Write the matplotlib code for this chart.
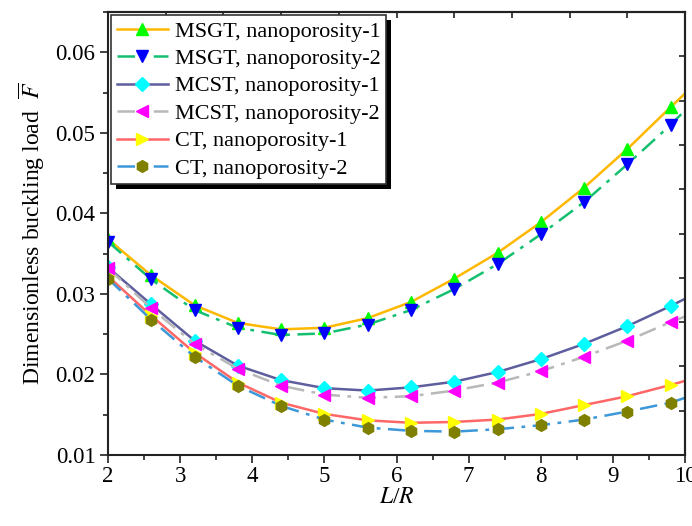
import matplotlib
matplotlib.use("Agg")
import matplotlib.pyplot as plt
import numpy as np
from matplotlib.ticker import MultipleLocator
from matplotlib.patches import Rectangle

plt.rcParams['font.family'] = ['Liberation Serif', 'DejaVu Serif']
plt.rcParams['mathtext.fontset'] = 'stix'

# x positions (markers) plus end point of the curves at L/R = 10
x = [2.0, 2.6, 3.2, 3.8, 4.4, 5.0, 5.6, 6.2, 6.8, 7.4, 8.0, 8.6, 9.2, 9.8, 10.0]

msgt_1 = [0.0368, 0.0323, 0.0286, 0.0264, 0.0256, 0.0258, 0.0270, 0.0290, 0.0319, 0.0351, 0.0389, 0.0432, 0.0480, 0.0532, 0.0549]
msgt_2 = [0.0365, 0.0318, 0.0280, 0.0258, 0.0249, 0.0251, 0.0262, 0.0280, 0.0306, 0.0337, 0.0374, 0.0414, 0.0461, 0.0510, 0.0528]
mcst_1 = [0.0333, 0.0287, 0.0242, 0.0211, 0.0193, 0.0183, 0.0180, 0.0184, 0.0191, 0.0203, 0.0219, 0.0238, 0.0260, 0.0285, 0.0294]
mcst_2 = [0.0332, 0.0282, 0.0238, 0.0207, 0.0186, 0.0175, 0.0171, 0.0173, 0.0180, 0.0190, 0.0204, 0.0222, 0.0242, 0.0265, 0.0272]
ct_1 = [0.0322, 0.0273, 0.0227, 0.0190, 0.0165, 0.0151, 0.0143, 0.0140, 0.0141, 0.0144, 0.0151, 0.0162, 0.0173, 0.0187, 0.0192]
ct_2 = [0.0319, 0.0268, 0.0222, 0.0186, 0.0161, 0.0144, 0.0134, 0.0130, 0.0129, 0.0132, 0.0137, 0.0144, 0.0154, 0.0165, 0.0171]

labels = ["MSGT, nanoporosity-1", "MSGT, nanoporosity-2",
          "MCST, nanoporosity-1", "MCST, nanoporosity-2",
          "CT, nanoporosity-1", "CT, nanoporosity-2"]

xticks = [2, 3, 4, 5, 6, 7, 8, 9, 10]
yticks = [0.01, 0.02, 0.03, 0.04, 0.05, 0.06]
ytick_labels = ['0.01', '0.02', '0.03', '0.04', '0.05', '0.06']

series = [msgt_1, msgt_2, mcst_1, mcst_2, ct_1, ct_2]
line_colors = ['#FFB800', '#14C070', '#5E5E9E', '#B8B8B8', '#FF6666', '#3C98D8']
line_styles = ['-', (0, (7, 3, 1.5, 3)), '-', (0, (7, 3, 1.5, 3)), '-', (0, (7, 3, 1.5, 3))]
markers = ['^', 'v', 'D', '<', '>', 'h']
marker_colors = ['#00FF00', '#0000FF', '#00FFFF', '#FF00FF', '#FFFF00', '#808000']
marker_sizes = [9, 9, 7.5, 9, 9, 8.5]

fig = plt.figure(figsize=(6.92, 5.26), dpi=100)
ax = fig.add_axes([0.156, 0.135, 0.834, 0.842])

for ys, lab, lc, ls, mk, mc, ms in zip(series, labels, line_colors, line_styles,
                                        markers, marker_colors, marker_sizes):
    ax.plot(x, ys, color=lc, linestyle=ls, linewidth=1.8, marker=mk,
            markerfacecolor=mc, markeredgecolor=mc, markersize=ms,
            markevery=list(range(14)), label=lab)

ax.set_xlim(2, 10)
ax.set_ylim(0.01, 0.065)
ax.set_xticks(xticks)
ax.xaxis.set_minor_locator(MultipleLocator(0.5))
ax.set_yticks(yticks)
ax.set_yticklabels(ytick_labels)
ax.yaxis.set_minor_locator(MultipleLocator(0.005))

tc = '#333333'
ax.tick_params(axis='both', which='both', labelsize=16.5, width=1.3, color=tc,
               direction='out', top=False, right=False)
ax.tick_params(axis='both', which='major', length=6)
ax.tick_params(axis='both', which='minor', length=3.5)
ax.tick_params(axis='x', which='major', pad=2)
ax.tick_params(axis='y', which='major', pad=3)

# top and right axes: ten equal divisions, inward ticks, no labels
ax2 = ax.secondary_xaxis('top')
ax2.set_xticks(np.linspace(2, 10, 11))
ax2.tick_params(direction='in', length=4.5, width=1.3, labeltop=False, color=tc)
ax3 = ax.secondary_yaxis('right')
ax3.set_yticks(np.linspace(0.01, 0.065, 11))
ax3.tick_params(direction='in', length=4.5, width=1.3, labelright=False, color=tc)
for a in (ax, ax2, ax3):
    for s in a.spines.values():
        s.set_linewidth(1.5)
        s.set_color('#222222')

ax.set_xlabel(r'$L$/$R$', fontsize=17, labelpad=0)
ax.set_ylabel(r'Dimensionless buckling load  $\overline{F}$', fontsize=17, labelpad=6)

leg = ax.legend(loc='upper left', fontsize=16, frameon=True, fancybox=False,
                edgecolor='#333333', framealpha=1, handlelength=2.3,
                labelspacing=0.31, borderpad=0.25, handletextpad=0.3,
                borderaxespad=0.15)
leg.get_frame().set_linewidth(1.2)
leg.set_zorder(10)

fig.canvas.draw()
bb = leg.get_window_extent()
shadow = Rectangle((bb.x0 + 5, bb.y0 - 5), bb.width, bb.height, transform=None,
                   facecolor='black', edgecolor='none', zorder=9)
ax.add_artist(shadow)

fig.savefig('out.png', dpi=100)
